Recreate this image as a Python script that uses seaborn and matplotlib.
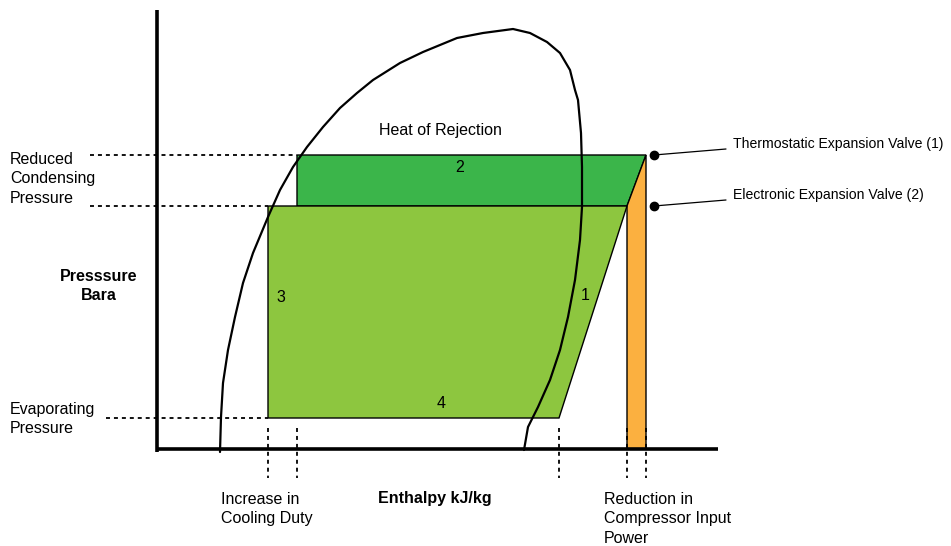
import matplotlib
matplotlib.use("Agg")
import matplotlib.pyplot as plt
import seaborn as sns
import pandas as pd

# saturation dome (enthalpy, pressure) in chart units, origin at the axes corner
dome_h = [63, 64, 66, 71, 78, 86, 96, 111, 123, 136, 150, 166, 183, 200, 216, 243,
          266, 300, 326, 356, 373, 390, 403, 413, 418, 421, 424, 425, 425, 423, 418,
          411, 403, 393, 381, 371, 367]
dome_p = [-3, 32, 66, 99, 132, 166, 196, 232, 259, 282, 302, 322, 341, 356, 369, 386,
          397, 411, 416, 420, 416, 407, 396, 379, 359, 349, 316, 282, 242, 209, 169,
          132, 99, 69, 42, 22, -1]

# pressure levels
p_cond_high = 294
p_cond_low = 243
p_evap = 31

# enthalpy points
h_liq_low = 111
h_liq_high = 140
h_suction = 402
h_disch_eev = 470
h_disch_txv = 489

left_labels = ["Reduced\nCondensing\nPressure", "Evaporating\nPressure"]
bottom_labels = ["Increase in\nCooling Duty", "Reduction in\nCompressor Input\nPower"]
valve_labels = ["Thermostatic Expansion Valve (1)", "Electronic Expansion Valve (2)"]
area_labels = ["1", "2", "3", "4"]

sns.set_style("white")
plt.rcParams['font.family'] = ['Liberation Sans', 'DejaVu Sans']
plt.rcParams['text.color'] = 'black'

fig = plt.figure(figsize=(9.51, 5.46), dpi=100)
ax = fig.add_axes([0, 0, 1, 1])
ax.set_xlim(-157, 794)
ax.set_ylim(-97, 449)
ax.axis("off")

dark_green = "#3bb54a"
light_green = "#8dc63f"
orange = "#fbb040"

# area 2 - heat of rejection increase
ax.fill([h_liq_high, h_disch_txv, h_disch_eev, h_liq_high],
        [p_cond_high, p_cond_high, p_cond_low, p_cond_low],
        facecolor=dark_green, edgecolor="black", lw=1.0, zorder=2)
# main cycle area
ax.fill([h_liq_low, h_disch_eev, h_suction, h_liq_low],
        [p_cond_low, p_cond_low, p_evap, p_evap],
        facecolor=light_green, edgecolor="black", lw=1.0, zorder=3)
# compressor power saving
ax.fill([h_disch_eev, h_disch_txv, h_disch_txv, h_disch_eev],
        [p_cond_low, p_cond_high, 0, 0],
        facecolor=orange, edgecolor="black", lw=1.0, zorder=2)

dome = pd.DataFrame({"h": dome_h, "p": dome_p})
sns.lineplot(data=dome, x="h", y="p", sort=False, estimator=None,
             color="black", lw=1.6, ax=ax, zorder=5, solid_joinstyle="round")

# axes
ax.plot([0, 0], [-3, 439], color="black", lw=2.6, solid_capstyle="butt", zorder=6)
ax.plot([0, 561], [0, 0], color="black", lw=2.6, solid_capstyle="butt", zorder=6)

dots = (0, (2.2, 2.2))
ax.plot([-67, h_liq_high], [p_cond_high] * 2, color="black", lw=1.3, ls=dots, zorder=1)
ax.plot([-67, h_liq_low], [p_cond_low] * 2, color="black", lw=1.3, ls=dots, zorder=1)
ax.plot([-51, h_liq_low], [p_evap] * 2, color="black", lw=1.3, ls=dots, zorder=1)
for h in [h_liq_low, h_liq_high, h_suction, h_disch_eev, h_disch_txv]:
    ax.plot([h, h], [21, -29], color="black", lw=1.3, ls=dots, zorder=7)

# valve callouts
for p, lab in zip([p_cond_high, p_cond_low], valve_labels):
    ax.plot([497], [p], "o", color="black", ms=6, zorder=7)
    ax.plot([497, 569], [p, p + 6], color="black", lw=0.9, zorder=7)
    ax.text(576, p + 11, lab, fontsize=10.1, va="center", ha="left")

fs = 11.5
ls = 1.4
ax.text(-147, 270, left_labels[0], fontsize=fs, va="center", ha="left", linespacing=ls)
ax.text(-147, 30, left_labels[1], fontsize=fs, va="center", ha="left", linespacing=ls)
ax.text(-58, 163, "Presssure\nBara", fontsize=fs, fontweight="bold", va="center",
        ha="center", linespacing=ls)

ax.text(64, -60, bottom_labels[0], fontsize=fs, va="center", ha="left", linespacing=ls)
ax.text(447, -70, bottom_labels[1], fontsize=fs, va="center", ha="left", linespacing=ls)
ax.text(278, -49, "Enthalpy kJ/kg", fontsize=fs, fontweight="bold", va="center", ha="center")

ax.text(283, 318, "Heat of Rejection", fontsize=fs, va="center", ha="center")
for lab, (x, y) in zip(area_labels, [(428, 154), (303, 281), (124, 151), (284, 46)]):
    ax.text(x, y, lab, fontsize=fs, va="center", ha="center", zorder=8)

fig.savefig("out.png", dpi=100)
